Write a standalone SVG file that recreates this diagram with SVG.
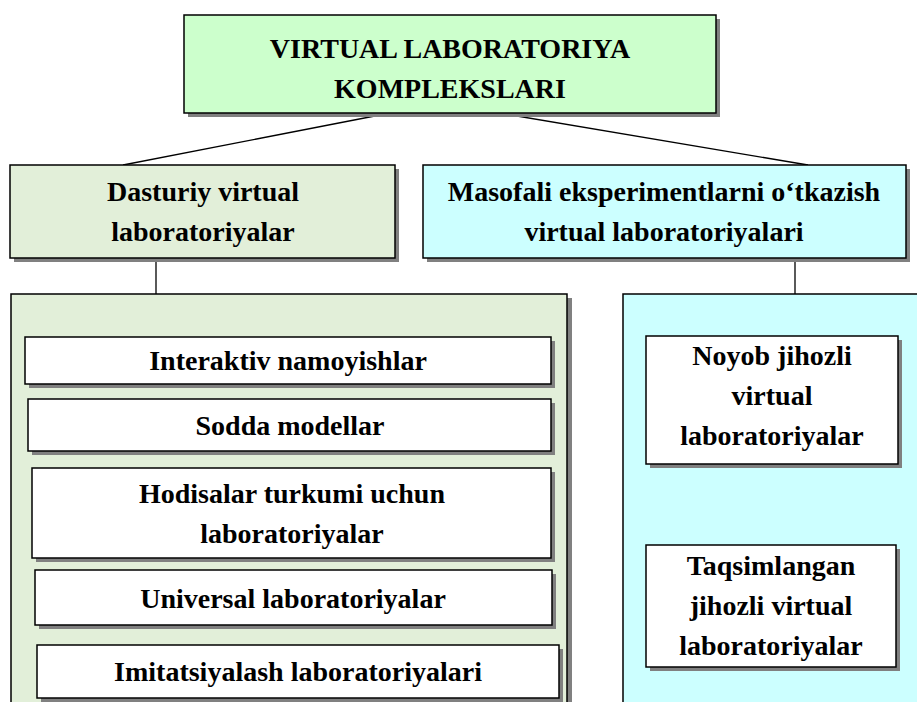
<svg xmlns="http://www.w3.org/2000/svg" width="917" height="702" viewBox="0 0 917 702">
<defs>
<style>
.box{stroke:#000;stroke-width:1.5}
.sh{fill:#808080}
.t{font-family:"Liberation Serif","Times New Roman",serif;font-weight:bold;font-size:28px;text-anchor:middle;fill:#000}
.ln{stroke:#000;stroke-width:1.3;fill:none}
</style>
</defs>
<rect width="917" height="702" fill="#fff"/>
<g id="connectors">
<line class="ln" x1="385" y1="114" x2="123" y2="165"/>
<line class="ln" x1="505" y1="114" x2="808" y2="165"/>
<line class="ln" x1="156" y1="258" x2="156" y2="294"/>
<line class="ln" x1="795" y1="258" x2="795" y2="294"/>
</g>
<g id="root">
<rect class="sh" x="188" y="19" width="532" height="98"/>
<rect class="box" x="184" y="15" width="532" height="98" fill="#ccffcc"/>
<text class="t" x="450" y="58">VIRTUAL LABORATORIYA</text>
<text class="t" x="450" y="98">KOMPLEKSLARI</text>
</g>
<g id="dasturiy">
<rect class="sh" x="14" y="169" width="385" height="93"/>
<rect class="box" x="10" y="165" width="385" height="93" fill="#e2efd9"/>
<text class="t" x="203" y="201">Dasturiy virtual</text>
<text class="t" x="203" y="241">laboratoriyalar</text>
</g>
<g id="masofali">
<rect class="sh" x="427" y="169" width="483" height="93"/>
<rect class="box" x="423" y="165" width="483" height="93" fill="#ccffff"/>
<text class="t" x="664" y="201">Masofali eksperimentlarni o‘tkazish</text>
<text class="t" x="664" y="241">virtual laboratoriyalari</text>
</g>
<g id="left-container">
<rect class="sh" x="15" y="298" width="557" height="420"/>
<rect class="box" x="11" y="294" width="556" height="420" fill="#e2efd9"/>
</g>
<g id="right-container">
<rect class="box" x="623" y="294" width="310" height="420" fill="#ccffff"/>
</g>
<g id="interaktiv">
<rect class="sh" x="29" y="341" width="526" height="47"/>
<rect class="box" x="25" y="337" width="526" height="47" fill="#fff"/>
<text class="t" x="288" y="370">Interaktiv namoyishlar</text>
</g>
<g id="sodda">
<rect class="sh" x="32" y="403" width="523" height="52"/>
<rect class="box" x="28" y="399" width="523" height="52" fill="#fff"/>
<text class="t" x="290" y="435">Sodda modellar</text>
</g>
<g id="hodisalar">
<rect class="sh" x="36" y="472" width="519" height="90"/>
<rect class="box" x="32" y="468" width="519" height="90" fill="#fff"/>
<text class="t" x="292" y="503">Hodisalar turkumi uchun</text>
<text class="t" x="292" y="543">laboratoriyalar</text>
</g>
<g id="universal">
<rect class="sh" x="39" y="574" width="517" height="55"/>
<rect class="box" x="35" y="570" width="517" height="55" fill="#fff"/>
<text class="t" x="293" y="608">Universal laboratoriyalar</text>
</g>
<g id="imitatsiyalash">
<rect class="sh" x="41" y="649" width="522" height="53"/>
<rect class="box" x="37" y="645" width="522" height="53" fill="#fff"/>
<text class="t" x="298" y="681">Imitatsiyalash laboratoriyalari</text>
</g>
<g id="noyob">
<rect class="sh" x="650" y="340" width="252" height="128"/>
<rect class="box" x="646" y="336" width="252" height="128" fill="#fff"/>
<text class="t" x="772" y="365">Noyob jihozli</text>
<text class="t" x="772" y="405">virtual</text>
<text class="t" x="772" y="445">laboratoriyalar</text>
</g>
<g id="taqsimlangan">
<rect class="sh" x="650" y="549" width="250" height="122"/>
<rect class="box" x="646" y="545" width="250" height="122" fill="#fff"/>
<text class="t" x="771" y="575">Taqsimlangan</text>
<text class="t" x="771" y="615">jihozli virtual</text>
<text class="t" x="771" y="655">laboratoriyalar</text>
</g>
</svg>
